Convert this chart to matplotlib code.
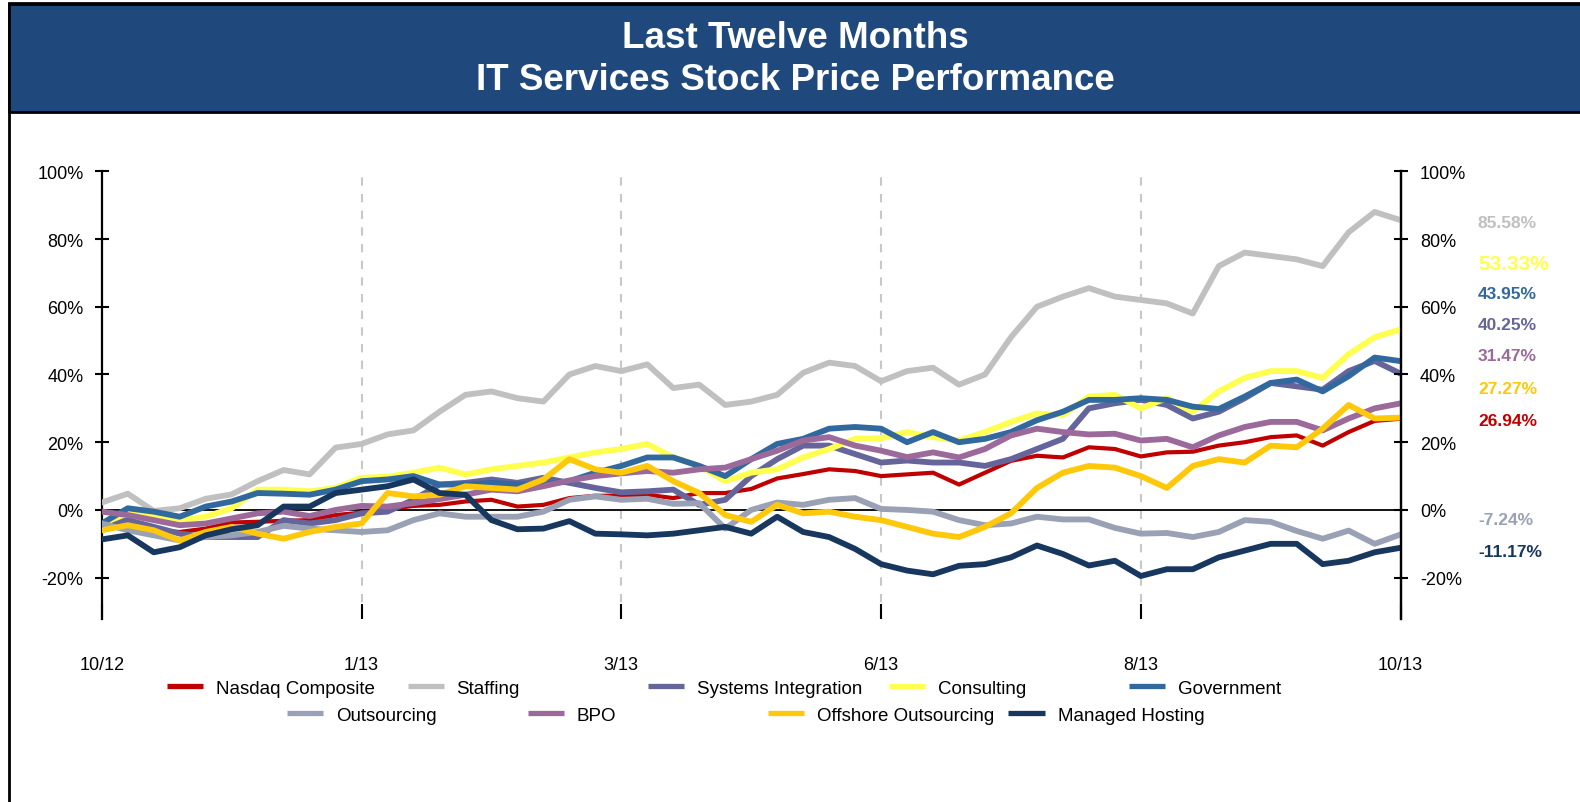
import numpy as np
import matplotlib
matplotlib.use("Agg")
import matplotlib.pyplot as plt
from matplotlib.patches import Rectangle
from matplotlib.lines import Line2D

plt.rcParams['font.family'] = ['Liberation Sans', 'DejaVu Sans']

W, H = 1580, 803

# --- dane (procentowa zmiana ceny) ---
MONTH_LABELS = ["10/12", "1/13", "3/13", "6/13", "8/13", "10/13"]
MONTH_POS = [0, 10, 20, 30, 40, 50]

NASDAQ = [-5, -4.5, -6, -6.5, -5.5, -3.7, -3.5, -3.2, -3, -1.5, -0.8, 0.2, 1.2, 1.5, 2.5, 3, 1, 1.5,
          3.5, 4.2, 4.2, 4.5, 3.5, 5, 5, 6.2, 9.3, 10.6, 12, 11.5, 10, 10.5, 11, 7.5, 11, 14.5, 16,
          15.5, 18.5, 18, 15.8, 17, 17.2, 19, 20, 21.5, 22, 19, 23, 26.3, 26.94]
STAFFING = [2.2, 4.8, -0.3, 0.5, 3.3, 4.6, 8.5, 11.8, 10.5, 18.4, 19.5, 22.3, 23.5, 29, 34, 35, 33,
            32, 40, 42.5, 41, 43, 36, 37, 31, 32, 34, 40.5, 43.5, 42.5, 38, 41, 42, 37, 40, 51, 60,
            63, 65.5, 63, 62, 61, 58, 72, 76, 75, 74, 72, 82, 88, 85.58]
SYS_INTEGRATION = [-4, -3, -5, -7, -8, -8, -8, -3, -4, -3, -1, -0.5, 3, 7.5, 8, 9, 8, 9.5, 8, 6.5,
                   5.2, 5.5, 6, 1.5, 3, 10, 15, 19, 19, 16.5, 14, 14.6, 14, 14, 13, 15, 18, 21, 30,
                   31.5, 32.5, 31, 27, 29, 33, 37.5, 36.5, 35.5, 41, 44, 40.25]
CONSULTING = [-4, -1, -1.5, -3, -2, 0.5, 6, 6, 5.5, 6.5, 9.5, 9.8, 11, 12.5, 10.5, 12, 13, 14, 15.5,
              17, 18, 19.5, 15.5, 13, 8.5, 11, 12, 15.5, 18, 21, 21.2, 23, 21.5, 20.5, 23, 26, 28.5,
              28, 33.5, 34, 30, 33, 29, 35, 39, 41, 41, 39, 46, 51, 53.33]
GOVERNMENT = [-4, 0.5, -0.5, -2, 1, 2.5, 5, 4.8, 4.5, 6, 8.5, 9, 10, 7.5, 7.5, 8, 7.5, 7.5, 8.5, 11,
              13, 15.5, 15.5, 13, 10, 15, 19.5, 21, 24, 24.5, 24, 20, 23, 20, 21, 23, 26.5, 29, 32.5,
              32.5, 33, 32.5, 30.5, 29.8, 33.5, 37.5, 38.5, 35, 39.5, 45, 43.95]
OUTSOURCING = [-4, -6, -7.5, -9, -8, -7.5, -6.5, -4.7, -5.5, -6, -6.5, -6, -3, -1, -2, -2, -2, -0.5,
               3, 4, 3, 3.3, 1.8, 2, -5.5, 0, 2.2, 1.5, 3, 3.5, 0.3, 0, -0.5, -3, -4.5, -4, -2, -2.8,
               -2.8, -5.3, -7, -6.8, -8, -6.5, -3, -3.5, -6.2, -8.5, -6.1, -10, -7.24]
BPO = [-0.5, -1.5, -3, -4.5, -4, -2.5, -1, -0.5, -1.8, 0, 1.2, 1, 2, 3.2, 4.5, 6, 5.5, 7, 8.7, 10,
       10.8, 11.5, 11, 12, 12.5, 15, 17.5, 20.5, 21.5, 19, 17.5, 15.6, 17, 15.5, 18, 22, 24, 23, 22.3,
       22.5, 20.5, 21, 18.5, 22, 24.5, 26, 26, 23.5, 27, 30, 31.47]
OFFSHORE = [-6, -4.5, -6, -9, -6.5, -5, -7, -8.5, -6.5, -5, -4, 5, 4, 4.5, 7, 6.5, 6, 9, 15, 12, 11,
            13, 8.5, 5, -1.5, -3.5, 1.5, -1, -0.5, -2, -3, -5, -7, -8, -5, -1, 6.5, 11, 13, 12.5, 10,
            6.5, 13, 15, 14, 19, 18.5, 24, 31, 27, 27.27]
MANAGED_HOSTING = [-8.7, -7.5, -12.5, -11, -7.5, -5.7, -4.5, 1, 1, 5, 6, 7, 9, 5, 4.5, -3, -5.7,
                   -5.5, -3.3, -7, -7.2, -7.5, -7, -6, -5, -7, -2, -6.5, -8, -11.5, -16, -17.9, -19,
                   -16.5, -16, -14, -10.5, -13, -16.4, -15, -19.5, -17.5, -17.5, -14, -12, -10, -10,
                   -16, -15, -12.5, -11.17]

# nazwa, dane, kolor, grubość linii, pozycja etykiety po prawej, rozmiar etykiety
SERIES = [
    ("Nasdaq Composite", NASDAQ, "#C00000", 3.0, 26.5, 12.5),
    ("Staffing", STAFFING, "#C0C0C0", 4.2, 84.8, 12.5),
    ("Systems Integration", SYS_INTEGRATION, "#65659C", 4.2, 54.8, 12.5),
    ("Consulting", CONSULTING, "#FFFF4F", 4.2, 72.9, 15),
    ("Government", GOVERNMENT, "#31689E", 4.2, 64.0, 12.5),
    ("Outsourcing", OUTSOURCING, "#9AA1B5", 4.2, -2.7, 12.5),
    ("BPO", BPO, "#9B6A9B", 4.2, 45.6, 12.5),
    ("Offshore Outsourcing", OFFSHORE, "#FFC80A", 4.2, 36.0, 12.5),
    ("Managed Hosting", MANAGED_HOSTING, "#17375E", 4.2, -12.2, 12.5),
]


def fx(px):
    return px / W


def fy(py):
    return 1 - py / H


fig = plt.figure(figsize=(W / 100, H / 100), dpi=100)

# ramka i pasek tytułu
fig.patches.append(Rectangle((fx(9), fy(H + 10)), 1.2, fy(4) - fy(H + 10), transform=fig.transFigure,
                             facecolor="none", edgecolor="black", linewidth=2, clip_on=False))
fig.patches.append(Rectangle((fx(9), fy(113)), 1.2, fy(5) - fy(113), transform=fig.transFigure,
                             facecolor="#1F497D", edgecolor="black", linewidth=2, clip_on=False))
fig.text(fx(795), fy(38), "Last Twelve Months", color="white", fontsize=26.5, fontweight="bold",
         ha="center", va="center")
fig.text(fx(795), fy(81), "IT Services Stock Price Performance", color="white", fontsize=26.5,
         fontweight="bold", ha="center", va="center")

left, right, top, bottom = 101.8, 1400.6, 172.3, 620
ax = fig.add_axes([fx(left), fy(bottom), fx(right - left), fy(top) - fy(bottom)])
x = np.arange(len(NASDAQ))

for m in MONTH_POS[1:-1]:
    ax.axvline(m, color="#C8C8C8", linewidth=1.5, dashes=(4, 4), zorder=1)
ax.axhline(0, color="black", linewidth=1.3, zorder=2)

for name, vals, color, lw, _, _ in SERIES:
    ax.plot(x, vals, color=color, linewidth=lw, solid_joinstyle="round", zorder=3)

ax.set_xlim(0, 50)
ax.set_ylim(-32.2, 100)
yt = np.arange(-20, 101, 20)
ax.set_yticks(yt)
ax.set_yticklabels([f"{v}%" for v in yt])
ax.set_xticks(MONTH_POS)
ax.set_xticklabels(MONTH_LABELS)

for s in ["top", "bottom"]:
    ax.spines[s].set_visible(False)
ax.spines["left"].set_linewidth(1.6)
ax.spines["right"].set_linewidth(1.6)
ax.tick_params(axis="y", direction="inout", length=10, width=1.5, labelsize=13, pad=8)
ax.tick_params(axis="x", direction="in", length=11, width=1.5, labelsize=13, pad=27)

ax2 = ax.twinx()
ax2.set_ylim(ax.get_ylim())
ax2.set_yticks(yt)
ax2.set_yticklabels([f"{v}%" for v in yt])
for s in ["top", "bottom", "left"]:
    ax2.spines[s].set_visible(False)
ax2.spines["right"].set_linewidth(1.6)
ax2.tick_params(axis="y", direction="inout", length=10, width=1.5, labelsize=13, pad=9)

# etykiety z końcowymi wartościami
for name, vals, color, lw, label_y, fs in SERIES:
    ax.text((1478 - left) / (right - left), label_y, f"{vals[-1]:.2f}%", color=color,
            fontsize=fs, fontweight="bold", va="center", ha="left",
            transform=ax.get_yaxis_transform(), clip_on=False)

# legenda w dwóch rzędach, jak w Excelu
for k, (name, vals, color, lw, _, _) in enumerate(SERIES):
    row = 0 if k < 5 else 1
    col = k if k < 5 else k - 5
    hx = 167 + 240.5 * col + 120 * row
    hy = 687 + 27 * row
    fig.lines.append(Line2D([fx(hx), fx(hx + 36)], [fy(hy), fy(hy)], transform=fig.transFigure,
                            color=color, linewidth=3.8, solid_capstyle="butt"))
    fig.text(fx(hx + 49), fy(hy + 3), name, fontsize=13.5, va="center", ha="left")

fig.savefig("out.png", dpi=100)
